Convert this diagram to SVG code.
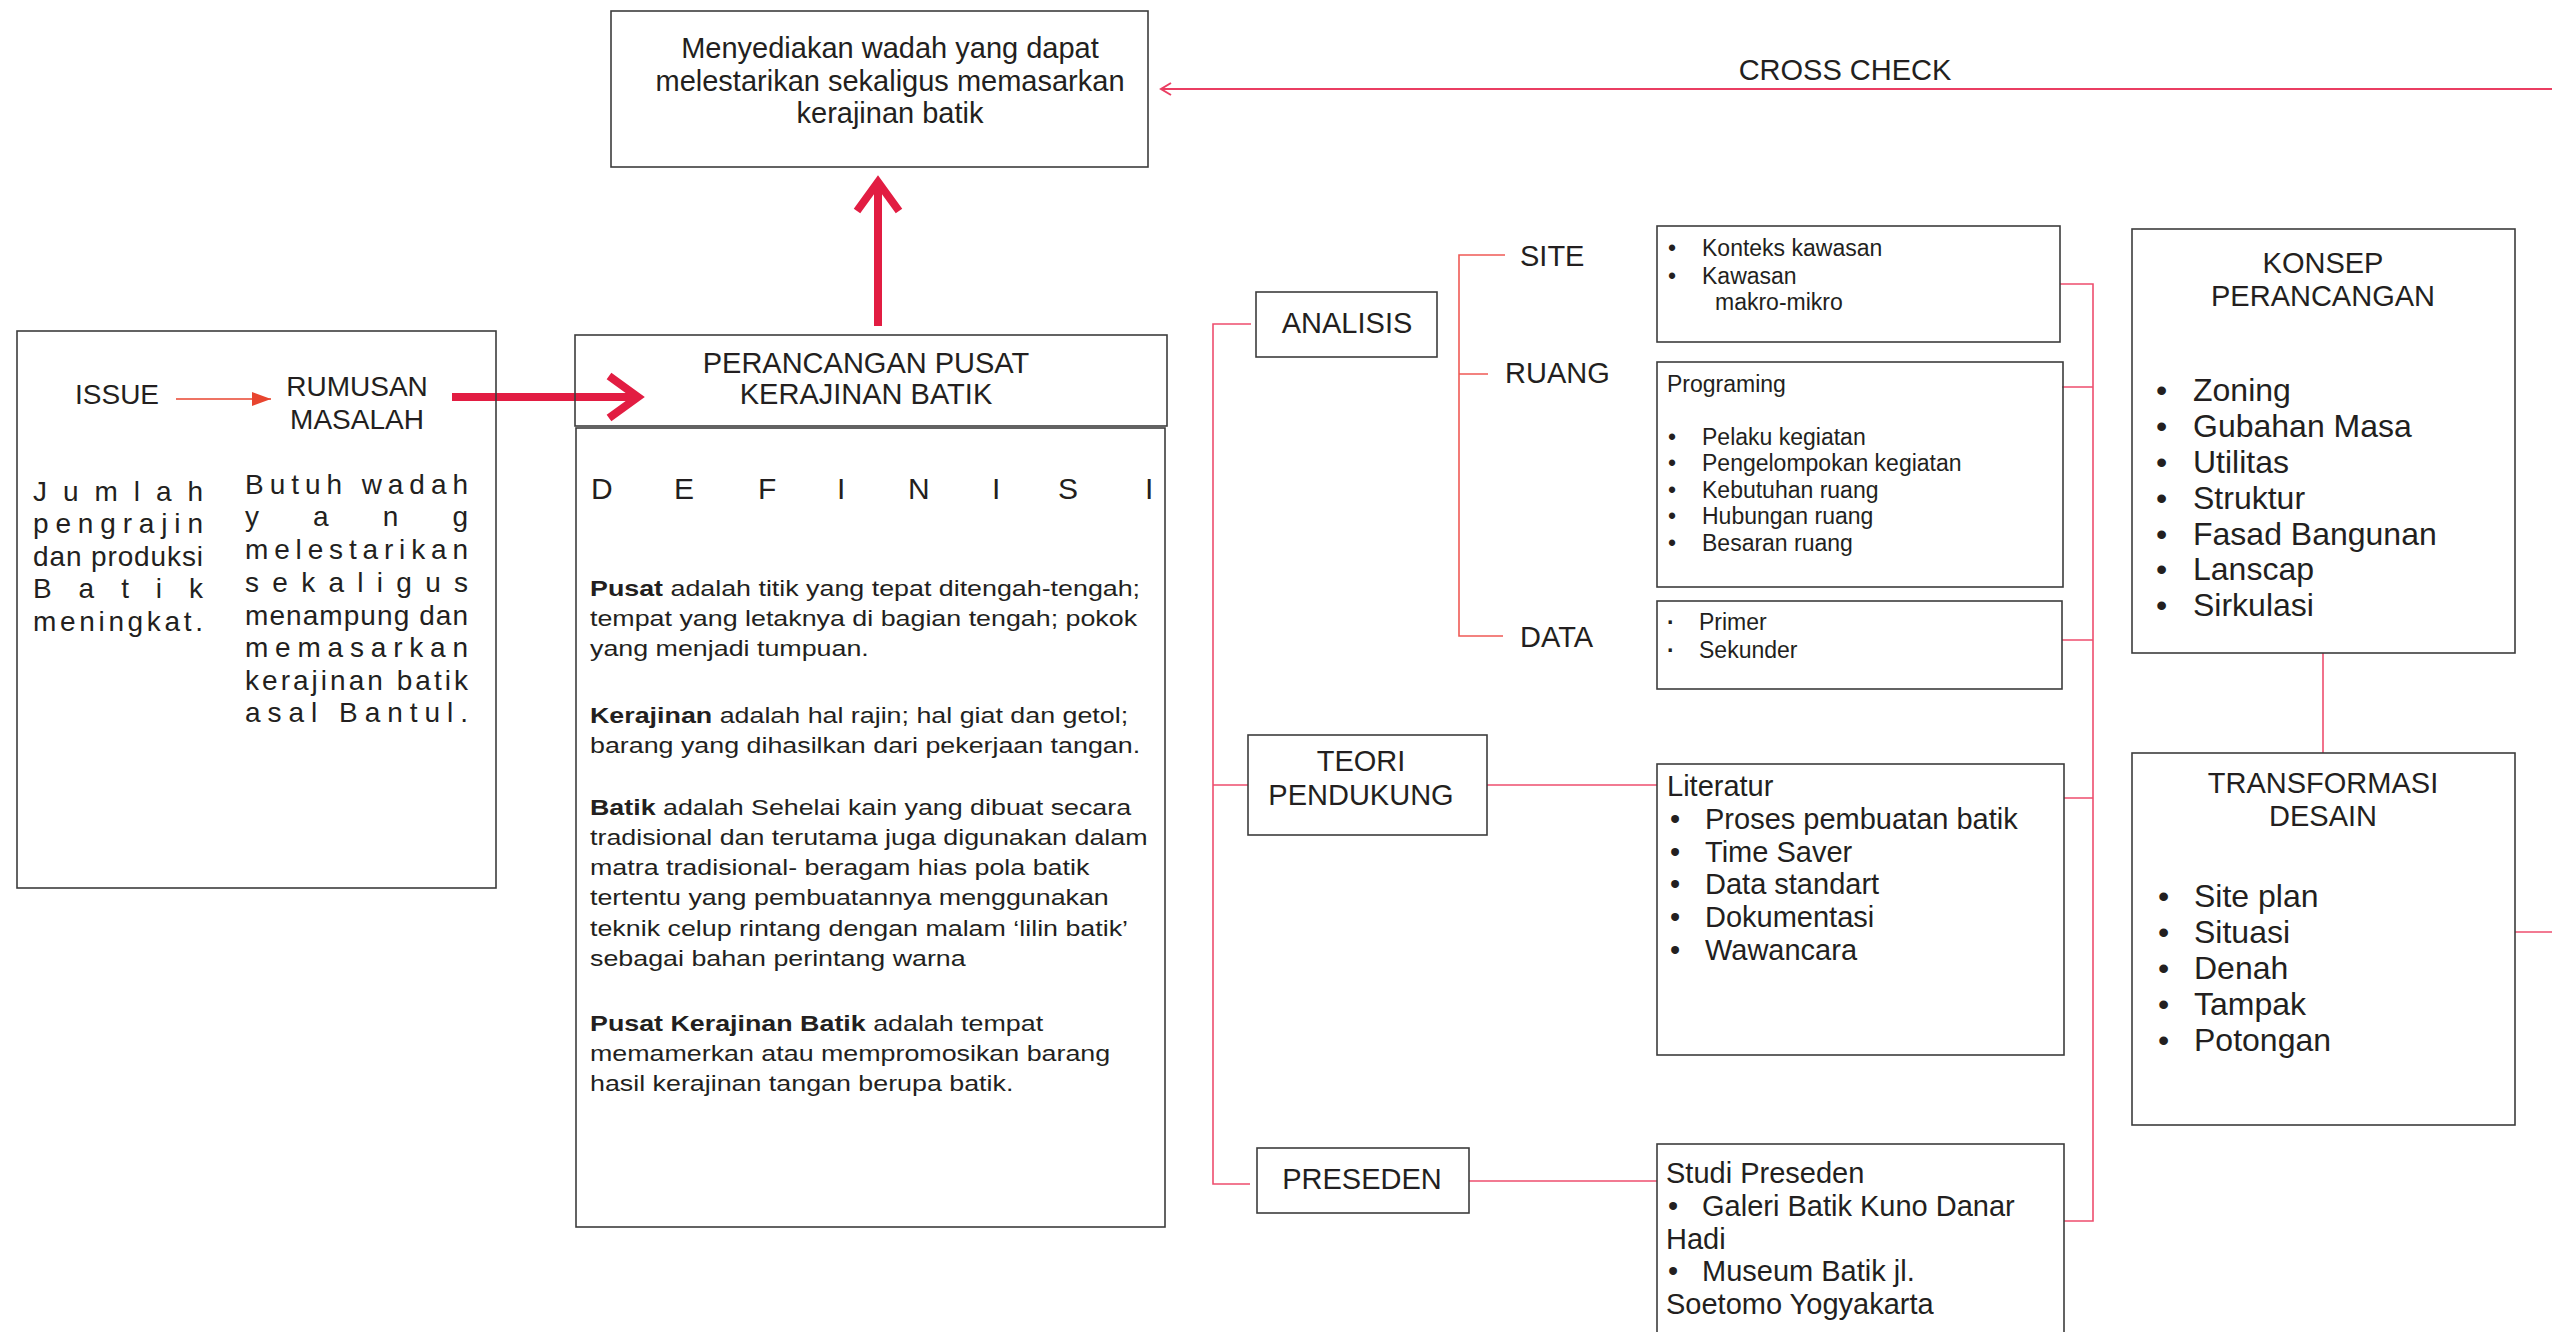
<svg xmlns="http://www.w3.org/2000/svg" width="2552" height="1332" viewBox="0 0 2552 1332">
<defs>
<style>
.t{font-family:"Liberation Sans",Arial,Helvetica,sans-serif;fill:#231f20}
.c{text-anchor:middle}
.box{fill:none;stroke:#3d3d3d;stroke-width:1.6}
.cn{fill:none;stroke:#ee4e6e;stroke-width:1.6}
.cn2{fill:none;stroke:#ef5a55;stroke-width:1.6}
.thick{fill:none;stroke:#e21d42;stroke-width:8}
.f23{font-size:23px}
.f28{font-size:28px}
.f29{font-size:29px}
.f32{font-size:32px}
</style>
<marker id="chev" markerUnits="userSpaceOnUse" markerWidth="80" markerHeight="80" viewBox="-50 -40 80 80" refX="0" refY="0" orient="auto" overflow="visible">
<path d="M-29,-21 L0,0 L-29,21" fill="none" stroke="#e21d42" stroke-width="8" stroke-linejoin="miter" stroke-miterlimit="10"/>
</marker>
<marker id="tri" markerUnits="userSpaceOnUse" markerWidth="30" markerHeight="20" viewBox="-20 -10 30 20" refX="0" refY="0" orient="auto" overflow="visible">
<path d="M0,0 L-19,-7 L-19,7 Z" fill="#e8452f"/>
</marker>
<marker id="thin" markerUnits="userSpaceOnUse" markerWidth="20" markerHeight="20" viewBox="-15 -10 20 20" refX="0" refY="0" orient="auto" overflow="visible">
<path d="M-10,-6 L0,0 L-10,6" fill="none" stroke="#ea3e62" stroke-width="2"/>
</marker>
</defs>
<rect x="0" y="0" width="2552" height="1332" fill="#ffffff"/>

<g id="connectors">
<line x1="176" y1="399" x2="271" y2="399" stroke="#e8452f" stroke-width="1.6" marker-end="url(#tri)"/>
<line class="thick" x1="452" y1="397" x2="638" y2="397" marker-end="url(#chev)"/>
<line class="thick" x1="878" y1="326" x2="878" y2="182" marker-end="url(#chev)"/>
<line x1="2552" y1="89" x2="1161" y2="89" stroke="#ea3e62" stroke-width="2" marker-end="url(#thin)"/>
<path class="cn" d="M1251,324 H1213 V1184 H1250 M1213,785 H1248"/>
<path class="cn2" d="M1505,255 H1459 V636 H1503 M1459,374 H1488"/>
<path class="cn" d="M1487,785 H1657"/>
<path class="cn" d="M1469,1181 H1657"/>
<path class="cn" d="M2060,284 H2093 V1221 H2064 M2062,387 H2093 M2062,640 H2093 M2064,798 H2093"/>
<path class="cn" d="M2323,653 V753"/>
<path class="cn" d="M2515,932 H2552"/>
</g>

<g id="issue-box">
<rect class="box" x="17" y="331" width="479" height="557"/>
<text class="t f28" x="75" y="404">ISSUE</text>
<text class="t f28 c" x="357" y="396">RUMUSAN</text>
<text class="t f28 c" x="357" y="429">MASALAH</text>
<g class="t f28">
<text x="33" y="501" textLength="170" lengthAdjust="spacing">Jumlah</text>
<text x="33" y="533" textLength="170" lengthAdjust="spacing">pengrajin</text>
<text x="33" y="566" textLength="170" lengthAdjust="spacing">dan produksi</text>
<text x="33" y="598" textLength="170" lengthAdjust="spacing">Batik</text>
<text x="33" y="631" textLength="170" lengthAdjust="spacing">meningkat.</text>
<text x="245" y="494" textLength="223" lengthAdjust="spacing">Butuh wadah</text>
<text x="245" y="526" textLength="223" lengthAdjust="spacing">yang</text>
<text x="245" y="559" textLength="223" lengthAdjust="spacing">melestarikan</text>
<text x="245" y="592" textLength="223" lengthAdjust="spacing">sekaligus</text>
<text x="245" y="625" textLength="223" lengthAdjust="spacing">menampung dan</text>
<text x="245" y="657" textLength="223" lengthAdjust="spacing">memasarkan</text>
<text x="245" y="690" textLength="223" lengthAdjust="spacing">kerajinan batik</text>
<text x="245" y="722" textLength="223" lengthAdjust="spacing">asal Bantul.</text>
</g>
</g>

<g id="tujuan">
<rect class="box" x="611" y="11" width="537" height="156"/>
<text class="t f29 c" x="890" y="58">Menyediakan wadah yang dapat</text>
<text class="t f29 c" x="890" y="91">melestarikan sekaligus memasarkan</text>
<text class="t f29 c" x="890" y="123">kerajinan batik</text>
</g>

<g id="perancangan">
<rect class="box" x="575" y="335" width="592" height="91"/>
<text class="t f29 c" x="866" y="373">PERANCANGAN PUSAT</text>
<text class="t f29 c" x="866" y="404">KERAJINAN BATIK</text>
</g>

<g id="definisi">
<rect class="box" x="576" y="428" width="589" height="799"/>
<text class="t" font-size="30" y="499" x="591 674 758 837 908 992 1058 1145">DEFINISI</text>
<g class="t" font-size="22" transform="translate(590 4) scale(1.22 1)">
<text x="0" y="592"><tspan font-weight="bold">Pusat</tspan> adalah titik yang tepat ditengah-tengah;</text>
<text x="0" y="622">tempat yang letaknya di bagian tengah; pokok</text>
<text x="0" y="652">yang menjadi tumpuan.</text>
<text x="0" y="719"><tspan font-weight="bold">Kerajinan</tspan> adalah hal rajin; hal giat dan getol;</text>
<text x="0" y="749">barang yang dihasilkan dari pekerjaan tangan.</text>
<text x="0" y="811"><tspan font-weight="bold">Batik</tspan> adalah Sehelai kain yang dibuat secara</text>
<text x="0" y="841">tradisional dan terutama juga digunakan dalam</text>
<text x="0" y="871">matra tradisional- beragam hias pola batik</text>
<text x="0" y="901">tertentu yang pembuatannya menggunakan</text>
<text x="0" y="932">teknik celup rintang dengan malam ‘lilin batik’</text>
<text x="0" y="962">sebagai bahan perintang warna</text>
<text x="0" y="1027"><tspan font-weight="bold">Pusat Kerajinan Batik</tspan> adalah tempat</text>
<text x="0" y="1057">memamerkan atau mempromosikan barang</text>
<text x="0" y="1087">hasil kerajinan tangan berupa batik.</text>
</g>
</g>

<g id="cross-check">
<text class="t f29 c" x="1845" y="80">CROSS CHECK</text>
</g>

<g id="analisis">
<rect class="box" x="1256" y="292" width="181" height="65"/>
<text class="t f29 c" x="1347" y="333">ANALISIS</text>
</g>
<g id="site-label"><text class="t f29" x="1520" y="266">SITE</text></g>
<g id="ruang-label"><text class="t f29" x="1505" y="383">RUANG</text></g>
<g id="data-label"><text class="t f29" x="1520" y="647">DATA</text></g>

<g id="site-box">
<rect class="box" x="1657" y="226" width="403" height="116"/>
<text class="t f23" x="1668" y="256">•</text>
<text class="t f23" x="1702" y="256">Konteks kawasan</text>
<text class="t f23" x="1668" y="284">•</text>
<text class="t f23" x="1702" y="284">Kawasan</text>
<text class="t f23" x="1715" y="310">makro-mikro</text>
</g>

<g id="ruang-box">
<rect class="box" x="1657" y="362" width="406" height="225"/>
<text class="t f23" x="1667" y="392">Programing</text>
<g class="t f23">
<text x="1668" y="445">•</text><text x="1702" y="445">Pelaku kegiatan</text>
<text x="1668" y="471">•</text><text x="1702" y="471">Pengelompokan kegiatan</text>
<text x="1668" y="498">•</text><text x="1702" y="498">Kebutuhan ruang</text>
<text x="1668" y="524">•</text><text x="1702" y="524">Hubungan ruang</text>
<text x="1668" y="551">•</text><text x="1702" y="551">Besaran ruang</text>
</g>
</g>

<g id="data-box">
<rect class="box" x="1657" y="601" width="405" height="88"/>
<g class="t f23">
<text x="1667" y="630" font-weight="bold">·</text><text x="1699" y="630">Primer</text>
<text x="1667" y="658" font-weight="bold">·</text><text x="1699" y="658">Sekunder</text>
</g>
</g>

<g id="teori">
<rect class="box" x="1248" y="735" width="239" height="100"/>
<text class="t f29 c" x="1361" y="771">TEORI</text>
<text class="t f29 c" x="1361" y="805">PENDUKUNG</text>
</g>

<g id="literatur">
<rect class="box" x="1657" y="764" width="407" height="291"/>
<g class="t f29">
<text x="1667" y="796">Literatur</text>
<text x="1670" y="829">•</text><text x="1705" y="829">Proses pembuatan batik</text>
<text x="1670" y="862">•</text><text x="1705" y="862">Time Saver</text>
<text x="1670" y="894">•</text><text x="1705" y="894">Data standart</text>
<text x="1670" y="927">•</text><text x="1705" y="927">Dokumentasi</text>
<text x="1670" y="960">•</text><text x="1705" y="960">Wawancara</text>
</g>
</g>

<g id="preseden">
<rect class="box" x="1257" y="1148" width="212" height="65"/>
<text class="t f29 c" x="1362" y="1189">PRESEDEN</text>
</g>

<g id="studi-preseden">
<rect class="box" x="1657" y="1144" width="407" height="210"/>
<g class="t f29">
<text x="1666" y="1183">Studi Preseden</text>
<text x="1668" y="1216">•</text><text x="1702" y="1216">Galeri Batik Kuno Danar</text>
<text x="1666" y="1249">Hadi</text>
<text x="1668" y="1281">•</text><text x="1702" y="1281">Museum Batik jl.</text>
<text x="1666" y="1314">Soetomo Yogyakarta</text>
</g>
</g>

<g id="konsep">
<rect class="box" x="2132" y="229" width="383" height="424"/>
<text class="t f29 c" x="2323" y="273">KONSEP</text>
<text class="t f29 c" x="2323" y="306">PERANCANGAN</text>
<g class="t f32">
<text x="2156" y="401">•</text><text x="2193" y="401">Zoning</text>
<text x="2156" y="437">•</text><text x="2193" y="437">Gubahan Masa</text>
<text x="2156" y="473">•</text><text x="2193" y="473">Utilitas</text>
<text x="2156" y="509">•</text><text x="2193" y="509">Struktur</text>
<text x="2156" y="545">•</text><text x="2193" y="545">Fasad Bangunan</text>
<text x="2156" y="580">•</text><text x="2193" y="580">Lanscap</text>
<text x="2156" y="616">•</text><text x="2193" y="616">Sirkulasi</text>
</g>
</g>

<g id="transformasi">
<rect class="box" x="2132" y="753" width="383" height="372"/>
<text class="t f29 c" x="2323" y="793">TRANSFORMASI</text>
<text class="t f29 c" x="2323" y="826">DESAIN</text>
<g class="t f32">
<text x="2158" y="907">•</text><text x="2194" y="907">Site plan</text>
<text x="2158" y="943">•</text><text x="2194" y="943">Situasi</text>
<text x="2158" y="979">•</text><text x="2194" y="979">Denah</text>
<text x="2158" y="1015">•</text><text x="2194" y="1015">Tampak</text>
<text x="2158" y="1051">•</text><text x="2194" y="1051">Potongan</text>
</g>
</g>
</svg>
